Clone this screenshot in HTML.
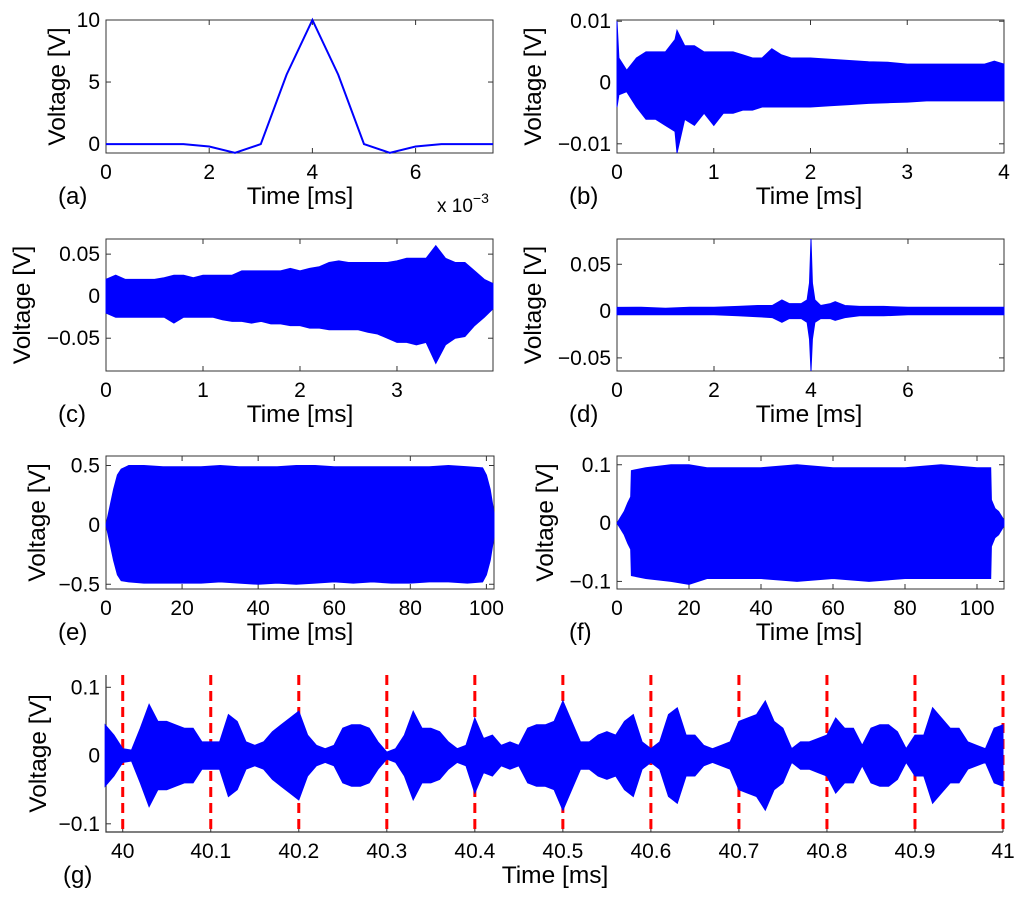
<!DOCTYPE html>
<html><head><meta charset="utf-8"><style>
html,body{margin:0;padding:0;background:#fff}
svg{display:block}
text{font-family:"Liberation Sans",Arial,sans-serif;fill:#000}
</style></head><body>
<svg id="fig" width="1024" height="907" viewBox="0 0 1024 907" xmlns="http://www.w3.org/2000/svg"></svg>
<script>
// ---- data (a) ----
const aTime=[0,0.5,1,1.5,2,2.5,3,3.5,4,4.5,5,5.5,6,6.5,7,7.5];
const aVolt=[0,0,0,0,-0.2,-0.7,0,5.6,10,5.6,0,-0.7,-0.2,0,0,0];
// ---- data (b) envelope ----
const bTime=[0,0.02,0.1,0.2,0.3,0.4,0.5,0.6,0.62,0.7,0.8,0.9,1.0,1.1,1.2,1.3,1.4,1.5,1.6,1.7,1.8,1.9,2.0,2.2,2.4,2.6,2.8,3.0,3.2,3.4,3.6,3.8,3.9,4.0];
const bUp=[0.01,0.004,0.002,0.004,0.005,0.005,0.005,0.007,0.0085,0.006,0.006,0.005,0.005,0.005,0.005,0.0045,0.004,0.004,0.0055,0.0045,0.004,0.004,0.004,0.0038,0.0036,0.0034,0.0033,0.003,0.003,0.003,0.003,0.003,0.0035,0.003];
const bLo=[-0.004,-0.002,-0.0015,-0.004,-0.006,-0.006,-0.007,-0.008,-0.0115,-0.006,-0.007,-0.005,-0.007,-0.005,-0.005,-0.0045,-0.0045,-0.004,-0.004,-0.004,-0.004,-0.004,-0.004,-0.0038,-0.0036,-0.0034,-0.0033,-0.0032,-0.003,-0.003,-0.003,-0.003,-0.003,-0.003];
// ---- data (c) envelope ----
const cTime=[0,0.1,0.2,0.3,0.4,0.5,0.6,0.7,0.8,0.9,1.0,1.1,1.2,1.3,1.4,1.5,1.6,1.7,1.8,1.9,2.0,2.1,2.2,2.3,2.4,2.5,2.6,2.7,2.8,2.9,3.0,3.1,3.2,3.3,3.4,3.5,3.6,3.7,3.8,3.9,3.99];
const cUp=[0.02,0.025,0.02,0.02,0.02,0.02,0.022,0.025,0.025,0.022,0.025,0.025,0.025,0.025,0.03,0.03,0.03,0.03,0.03,0.033,0.03,0.033,0.035,0.04,0.042,0.04,0.04,0.04,0.04,0.04,0.042,0.045,0.045,0.045,0.06,0.045,0.04,0.04,0.03,0.02,0.015];
const cLo=[-0.02,-0.025,-0.025,-0.025,-0.025,-0.025,-0.025,-0.032,-0.025,-0.025,-0.025,-0.025,-0.028,-0.03,-0.03,-0.032,-0.03,-0.033,-0.033,-0.035,-0.035,-0.038,-0.038,-0.04,-0.04,-0.04,-0.04,-0.043,-0.045,-0.05,-0.055,-0.055,-0.058,-0.055,-0.08,-0.058,-0.05,-0.048,-0.035,-0.025,-0.015];
// ---- data (d) envelope ----
const dTime=[0,0.5,1,1.5,2,2.5,2.9,3.2,3.4,3.55,3.8,3.92,3.97,4.0,4.03,4.08,4.2,4.4,4.5,4.7,5,5.5,6,6.5,7,7.5,7.98];
const dUp=[0.004,0.004,0.003,0.004,0.004,0.005,0.006,0.006,0.012,0.008,0.008,0.012,0.03,0.077,0.03,0.012,0.006,0.008,0.01,0.006,0.005,0.005,0.004,0.004,0.004,0.004,0.004];
const dLo=[-0.004,-0.004,-0.004,-0.004,-0.004,-0.005,-0.006,-0.007,-0.012,-0.008,-0.008,-0.012,-0.03,-0.064,-0.03,-0.012,-0.008,-0.008,-0.01,-0.007,-0.005,-0.005,-0.004,-0.004,-0.004,-0.004,-0.004];
// ---- data (e) envelope ----
const eTime=[0,1,2,3,4,6,10,15,20,25,30,35,40,45,50,55,60,65,70,75,80,85,90,95,99,100,101,102];
const eUp=[0,0.15,0.3,0.42,0.47,0.5,0.5,0.49,0.49,0.49,0.5,0.49,0.49,0.49,0.5,0.5,0.49,0.49,0.49,0.49,0.49,0.49,0.5,0.49,0.48,0.42,0.3,0.1];
const eLo=[0,-0.15,-0.3,-0.42,-0.47,-0.48,-0.49,-0.49,-0.49,-0.49,-0.48,-0.49,-0.5,-0.49,-0.5,-0.49,-0.48,-0.49,-0.48,-0.49,-0.49,-0.48,-0.48,-0.49,-0.48,-0.42,-0.3,-0.1];
// ---- data (f) envelope ----
const fTime=[0,1,2,3,3.8,4,8,15,20,25,30,40,50,60,70,80,90,100,103.8,104,105,106,107,107.5];
const fUp=[0,0.01,0.02,0.035,0.045,0.09,0.095,0.1,0.1,0.095,0.095,0.095,0.1,0.095,0.095,0.095,0.1,0.095,0.095,0.04,0.025,0.02,0.01,0.005];
const fLo=[0,-0.01,-0.02,-0.035,-0.045,-0.09,-0.095,-0.1,-0.105,-0.095,-0.095,-0.095,-0.1,-0.095,-0.1,-0.095,-0.095,-0.095,-0.095,-0.04,-0.025,-0.02,-0.01,-0.005];
// ---- data (g) envelope amplitude (0.01 ms steps from 39.98) ----
const gStart=39.98, gStep=0.01;
const gAmp=[0.045,0.03,0.01,0.008,0.04,0.075,0.05,0.05,0.045,0.04,0.04,0.02,0.02,0.02,0.06,0.05,0.02,0.015,0.02,0.035,0.045,0.055,0.065,0.03,0.015,0.01,0.015,0.04,0.045,0.045,0.04,0.02,0.005,0.01,0.03,0.065,0.04,0.04,0.035,0.02,0.01,0.015,0.055,0.025,0.03,0.015,0.02,0.015,0.04,0.045,0.045,0.05,0.08,0.05,0.02,0.02,0.03,0.035,0.03,0.05,0.06,0.02,0.01,0.02,0.06,0.07,0.03,0.03,0.015,0.01,0.015,0.02,0.05,0.055,0.06,0.08,0.05,0.04,0.01,0.02,0.02,0.025,0.03,0.055,0.04,0.04,0.015,0.04,0.045,0.045,0.035,0.01,0.03,0.03,0.07,0.055,0.04,0.04,0.02,0.015,0.01,0.04,0.045];
const gMarks=[40,40.1,40.2,40.3,40.4,40.5,40.6,40.7,40.8,40.9,41];
const gTickLabels=["40","40.1","40.2","40.3","40.4","40.5","40.6","40.7","40.8","40.9","41"];

const NS="http://www.w3.org/2000/svg";
const svg=document.getElementById('fig');
function mk(tag,attrs,parent){const e=document.createElementNS(NS,tag);for(const k in attrs)e.setAttribute(k,attrs[k]);(parent||svg).appendChild(e);return e;}
function txt(s,x,y,size,anchor,parent,rot){const t=mk('text',{x:x,y:y,'font-size':size,'text-anchor':anchor||'middle'},parent);if(rot)t.setAttribute('transform','rotate(-90 '+x+' '+y+')');t.textContent=s;return t;}

function axes(p){
  const g=mk('g',{});
  
  
  const X=v=>p.x0+(v-p.xmin)/(p.xmax-p.xmin)*(p.x1-p.x0);
  const Y=v=>p.y1-(v-p.ymin)/(p.ymax-p.ymin)*(p.y1-p.y0);
  p.X=X;p.Y=Y;p.g=g;
  const ax=mk('g',{},g);
  
  
  p.ax=ax;
  p.xt.forEach((v,i)=>{const x=X(v);
    const tk=mk('line',{x1:x,x2:x,y1:p.y1,y2:p.y1-5,stroke:'#333','stroke-width':1},ax);
    
    if(p.box){mk('line',{x1:x,x2:x,y1:p.y0,y2:p.y0+5,stroke:'#333','stroke-width':1},ax);}
    const l=txt(p.xl[i],x,p.y1+26,21,'middle',ax);
    
  });
  p.yt.forEach((v,i)=>{const y=Y(v);
    const tk=mk('line',{x1:p.x0,x2:p.x0+5,y1:y,y2:y,stroke:'#333','stroke-width':1},ax);
    
    if(p.box){mk('line',{x1:p.x1,x2:p.x1-5,y1:y,y2:y,stroke:'#333','stroke-width':1},ax);}
    const l=txt(p.yl[i],p.x0-6,y+7,21,'end',ax);
    
  });
  const xl=txt('Time [ms]',p.tx,p.y1+51,24.5,'middle',g);
  
  const yl=txt('Voltage [V]',p.vx,(p.y0+p.y1)/2,24.5,'middle',g,true);
  
  const pl=txt('('+p.id+')',p.lx,p.y1+51,24,'start',g);
  
  return p;
}
function frame(p){
  if(p.box){const r=mk('rect',{x:p.x0,y:p.y0,width:p.x1-p.x0,height:p.y1-p.y0,fill:'none',stroke:'#333','stroke-width':1},p.ax);
    }
  else{const l=mk('path',{d:'M'+p.x0+' '+p.y0+'V'+p.y1+'H'+p.x1,fill:'none',stroke:'#333','stroke-width':1.2},p.ax);
    }
}
function envelope(p,ts,up,lo){
  let d='M'+p.X(ts[0])+' '+p.Y(up[0]);
  for(let i=1;i<ts.length;i++)d+='L'+p.X(ts[i]).toFixed(1)+' '+p.Y(up[i]).toFixed(1);
  for(let i=ts.length-1;i>=0;i--)d+='L'+p.X(ts[i]).toFixed(1)+' '+p.Y(lo[i]).toFixed(1);
  const e=mk('path',{d:d+'Z',fill:'#0000ff',stroke:'#0000ff','stroke-width':1,'stroke-linejoin':'miter'},p.g);
  
  
}

// (a)
const pa=axes({id:'a',x0:106,x1:493,y0:20,y1:153,xmin:0,xmax:7.5,ymin:-0.72,ymax:10,box:true,
  xt:[0,2,4,6],xl:['0','2','4','6'],yt:[0,5,10],yl:['0','5','10'],tx:300,vx:65,lx:58});
(function(){let d='';aTime.forEach((t,i)=>{d+=(i?'L':'M')+pa.X(t).toFixed(1)+' '+pa.Y(aVolt[i]).toFixed(1);});
  const l=mk('path',{d:d,fill:'none',stroke:'#0000ff','stroke-width':2},pa.g);
  
  const m=txt('x 10',437,212,19,'start',pa.g);
  
  const s=mk('tspan',{dy:-9,'font-size':14},m);s.textContent='−3';
})();
frame(pa);
// (b)
const pb=axes({id:'b',x0:617,x1:1004,y0:20,y1:153,xmin:0,xmax:4,ymin:-0.0115,ymax:0.0102,box:true,
  xt:[0,1,2,3,4],xl:['0','1','2','3','4'],yt:[-0.01,0,0.01],yl:['−0.01','0','0.01'],tx:809,vx:541,lx:569});
envelope(pb,bTime,bUp,bLo);frame(pb);
// (c)
const pc=axes({id:'c',x0:106,x1:493,y0:239,y1:371,xmin:0,xmax:3.99,ymin:-0.089,ymax:0.068,box:true,
  xt:[0,1,2,3],xl:['0','1','2','3'],yt:[-0.05,0,0.05],yl:['−0.05','0','0.05'],tx:300,vx:30,lx:58});
envelope(pc,cTime,cUp,cLo);frame(pc);
// (d)
const pd=axes({id:'d',x0:617,x1:1004,y0:239,y1:371,xmin:0,xmax:7.98,ymin:-0.064,ymax:0.077,box:true,
  xt:[0,2,4,6],xl:['0','2','4','6'],yt:[-0.05,0,0.05],yl:['−0.05','0','0.05'],tx:809,vx:541,lx:569});
envelope(pd,dTime,dUp,dLo);frame(pd);
// (e)
const pe=axes({id:'e',x0:106,x1:494,y0:456,y1:589,xmin:0,xmax:102,ymin:-0.54,ymax:0.58,box:true,
  xt:[0,20,40,60,80,100],xl:['0','20','40','60','80','100'],yt:[-0.5,0,0.5],yl:['−0.5','0','0.5'],tx:300,vx:45,lx:58});
envelope(pe,eTime,eUp,eLo);frame(pe);
// (f)
const pf=axes({id:'f',x0:617,x1:1004,y0:456,y1:589,xmin:0,xmax:107.5,ymin:-0.113,ymax:0.115,box:true,
  xt:[0,20,40,60,80,100],xl:['0','20','40','60','80','100'],yt:[-0.1,0,0.1],yl:['−0.1','0','0.1'],tx:809,vx:553,lx:569});
envelope(pf,fTime,fUp,fLo);frame(pf);
// (g)
const pg=axes({id:'g',x0:106,x1:1003,y0:675,y1:832,xmin:39.981,xmax:41,ymin:-0.112,ymax:0.118,box:false,
  xt:gMarks,xl:gTickLabels,yt:[-0.1,0,0.1],yl:['−0.1','0','0.1'],tx:555,vx:46,lx:63});
(function(){
  gMarks.forEach(m=>{const x=pg.X(m);
    const l=mk('line',{x1:x,x2:x,y1:pg.y0,y2:pg.y1,stroke:'#ff0000','stroke-width':3,'stroke-dasharray':'10 6'},pg.g);
    });
  const ts=gAmp.map((a,i)=>gStart+i*gStep);
  envelope(pg,ts,gAmp,gAmp.map(a=>-a));
})();
frame(pg);
</script>
</body></html>
